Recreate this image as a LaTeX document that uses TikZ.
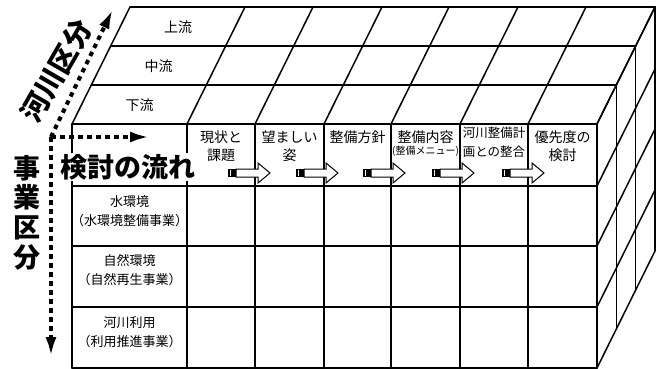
\documentclass[tikz,border=0pt]{standalone}
\usepackage{fontspec}
\setmainfont{Noto Sans CJK JP}
\usetikzlibrary{arrows.meta}
\tikzset{
  flowarrow/.pic={
    \fill[black] (0,-4) rectangle (8,4);
    \draw[white, line width=1pt] (2.5,-3) -- (2.5,3);
    \draw[line width=1pt, line join=miter, fill=white] (8,-4) -- (30,-4) -- (30,-10) -- (42,0) -- (30,10) -- (30,4) -- (8,4) -- cycle;
  }
}
\begin{document}
\begin{tikzpicture}[x=1pt,y=-1pt,
  grid/.style={line width=1.5pt, line cap=round, line join=round},
  lbl/.style={font=\fontsize{13}{19}\selectfont, align=center, inner sep=0pt},
  hdr/.style={font=\fontsize{14}{18}\selectfont, align=center, inner sep=0pt},
  big/.style={font=\bfseries\fontsize{27}{29.7}\selectfont, inner sep=1pt, align=center},
  dots/.style={line width=4pt, dash pattern=on 4.5pt off 4.5pt},
  tip/.style={-{Latex[length=20pt,width=11pt]}},
]
\useasboundingbox (0,0) rectangle (661,369);

% front face
\foreach \x in {72,187,255,324,391,460,528,597}
  \draw[grid] (\x,124) -- (\x,368);
\foreach \y in {124,186,246,307,368}
  \draw[grid] (72,\y) -- (597,\y);
% top face
\foreach \x in {72,187,255,324,391,460,528,597}
  \draw[grid] (\x,124) -- ++(58,-117);
\foreach \k in {1,2,3}
  \draw[grid] (72+19.33*\k,124-39*\k) -- (597+19.33*\k,124-39*\k);
% side face
\foreach \k in {1,2,3}
  \draw[grid] (597+19.33*\k,124-39*\k) -- (597+19.33*\k,368-39*\k);
\foreach \y in {124,186,246,307,368}
  \draw[grid] (597,\y) -- ++(58,-117);

% top face labels
\node[hdr] (up) at (178,27) {上流};
\node[hdr] (mid) at (158.5,66) {中流};
\node[hdr] (down) at (139.5,105) {下流};

% header labels
\node[hdr] (h1) at (221,146) {現状と\\課題};
\node[hdr] (h2) at (289.5,146) {望ましい\\姿};
\node[hdr] (h3) at (357.5,137) {整備方針};
\node[hdr] (h4) at (425.5,137) {整備内容};
\node[font=\fontsize{10}{12}\selectfont, inner sep=0pt] (h4s) at (425.5,151) {(整備メニュー)};
\node[hdr, font=\fontsize{12.5}{19}\selectfont] (h5) at (494,142.5) {河川整備計\\画との整合};
\node[hdr] (h6) at (562.5,146) {優先度の\\検討};

% block arrows
\foreach \x in {228,296,363,432,502}
  \pic at (\x,173) {flowarrow};

% row labels
\node[lbl] (r1) at (129.5,211.5) {水環境\\（水環境整備事業）};
\node[lbl] (r2) at (129.5,270) {自然環境\\（自然再生事業）};
\node[lbl] (r3) at (129.5,332) {河川利用\\（利用推進事業）};

% big labels
\node[big, fill=white] (flow) at (128,167) {検討の流れ};
\node[big] (jigyo) at (27,212.5) {事\\業\\区\\分};
\node[big, rotate=60, font=\bfseries\fontsize{28}{30}\selectfont] (kasen) at (56,71) {河川区分};

% dotted axes
\coordinate (corner) at (51,137);
\coordinate (tipUp) at (113,9);
\coordinate (tipRight) at (150,137);
\coordinate (tipDown) at (51,357);
\draw[dots, tip] (corner) -- (tipUp);
\draw[dots, tip] (corner) -- (tipRight);
\draw[dots, tip] (corner) -- (tipDown);
\end{tikzpicture}
\end{document}
